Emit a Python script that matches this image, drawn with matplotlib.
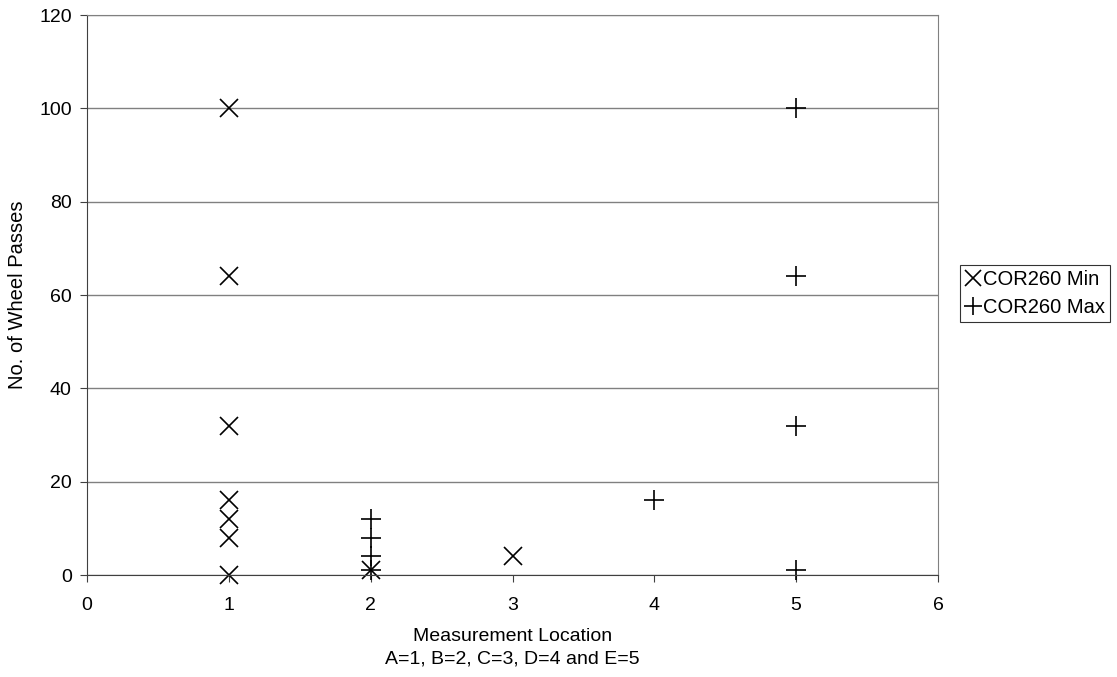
import matplotlib
matplotlib.use("Agg")
import matplotlib.pyplot as plt

plt.rcParams['font.family'] = ['Liberation Sans', 'DejaVu Sans']

# COR260 Min
min_x = [1, 1, 1, 1, 1, 1, 1, 2, 3]
min_y = [100, 64, 32, 16, 12, 8, 0, 1, 4]

# COR260 Max
max_x = [2, 2, 2, 2, 4, 5, 5, 5, 5]
max_y = [12, 8, 4, 1, 16, 100, 64, 32, 1]

fig = plt.figure(figsize=(11.17, 6.77), dpi=100)
ax = fig.add_axes([87/1117, 1 - 575/677, (938-87)/1117, (575-15)/677])

ax.plot(min_x, min_y, linestyle='none', marker='x', markersize=13,
        markeredgewidth=1.2, color='black', label='COR260 Min', clip_on=False)
ax.plot(max_x, max_y, linestyle='none', marker='+', markersize=14,
        markeredgewidth=1.2, color='black', label='COR260 Max', clip_on=False)

ax.set_xlim(0, 6)
ax.set_ylim(0, 120)
ax.set_xticks(range(0, 7))
ax.set_yticks(range(0, 121, 20))
ax.yaxis.grid(True, color='#808080', linewidth=1)
ax.set_axisbelow(True)
for s in ['top', 'right']:
    ax.spines[s].set_color('#808080')
for s in ['left', 'bottom']:
    ax.spines[s].set_color('#404040')
ax.tick_params(direction='out', length=5, labelsize=14, color='#404040')
ax.tick_params(axis='x', pad=11)
ax.tick_params(axis='y', pad=6)

ax.set_xlabel('Measurement Location\nA=1, B=2, C=3, D=4 and E=5', fontsize=14,
              labelpad=10, linespacing=1.45)
ax.set_ylabel('No. of Wheel Passes', fontsize=14.5, labelpad=9)

leg = fig.legend(loc='upper left', bbox_to_anchor=(960/1117, 1 - 265/677),
                 fontsize=14.5, frameon=True, fancybox=False, handlelength=0.8,
                 handletextpad=0.1, borderpad=0.25, labelspacing=0.45,
                 borderaxespad=0, markerscale=0.9)
leg.get_frame().set_edgecolor('black')
leg.get_frame().set_linewidth(0.8)

fig.savefig('out.png', dpi=100)
